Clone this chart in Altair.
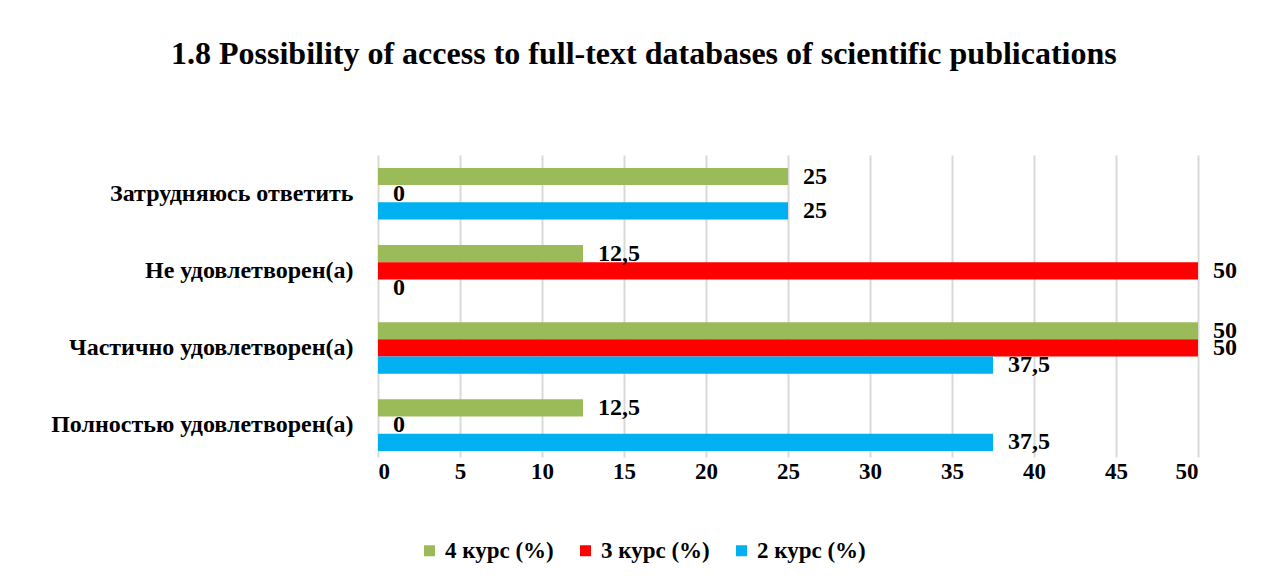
import altair as alt
import pandas as pd

categories = ["Затрудняюсь ответить", "Не удовлетворен(а)", "Частично удовлетворен(а)", "Полностью удовлетворен(а)"]
series = ["4 курс (%)", "3 курс (%)", "2 курс (%)"]
values_4 = [25, 12.5, 50, 12.5]
values_3 = [0, 50, 50, 0]
values_2 = [25, 0, 37.5, 37.5]
colors = ["#9BBB59", "#FF0000", "#00B0F0"]

rows = []
for s, vals in zip(series, [values_4, values_3, values_2]):
    for c, v in zip(categories, vals):
        rows.append({"category": c, "series": s, "value": v})
df = pd.DataFrame(rows)

FONT = "Liberation Serif"

base = alt.Chart(df).encode(
    y=alt.Y("category:N", sort=categories, title=None,
            scale=alt.Scale(paddingInner=0.33, paddingOuter=0.123, align=0.68),
            axis=alt.Axis(labelFont=FONT, labelFontSize=24, labelFontWeight="bold",
                          labelColor="black", labelPadding=25, ticks=False, domain=False,
                          labelLimit=500)),
    yOffset=alt.YOffset("series:N", sort=series),
)

bars = base.mark_bar().encode(
    x=alt.X("value:Q", title=None,
            scale=alt.Scale(domain=[0, 50], nice=False),
            axis=alt.Axis(values=list(range(0, 55, 5)), labelFont=FONT, labelFontSize=23,
                          labelFontWeight="bold", labelColor="black", ticks=False,
                          domain=False, gridColor="#D9D9D9", gridWidth=2, labelPadding=3)),
    color=alt.Color("series:N", sort=series, title=None,
                    scale=alt.Scale(domain=series, range=colors),
                    legend=alt.Legend(orient="none", legendX=40, legendY=384,
                                      direction="horizontal",
                                      labelFont=FONT, labelFontSize=23, labelFontWeight="bold",
                                      labelColor="black", symbolType="square", symbolSize=121,
                                      symbolStrokeWidth=0, columnPadding=20, labelOffset=4)),
)

labels = base.mark_text(align="left", baseline="middle", dx=15, font=FONT,
                        fontSize=24, fontWeight="bold", color="black").encode(
    x=alt.X("value:Q"),
    text=alt.Text("lbl:N"),
).transform_calculate(lbl="replace(toString(datum.value), '.', ',')")

chart = (bars + labels).properties(
    width=820, height=302,
    title=alt.TitleParams("1.8 Possibility of access to full-text databases of scientific publications",
                          font=FONT, fontSize=32, fontWeight="bold", color="black",
                          offset=84, frame="bounds"),
    padding={"left": 42, "top": 30, "right": 20, "bottom": 10},
).configure_view(stroke=None)

chart.save("out.html", embed_options={"renderer": "svg", "actions": False})
